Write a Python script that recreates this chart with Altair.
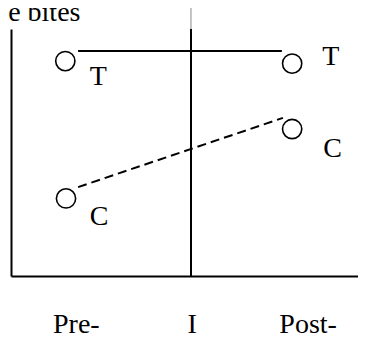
import altair as alt
import pandas as pd

# ---- data ----
title_text = "e bites"
title_x = [-0.08]
title_y = [10.32]

phase_labels = ["Pre-", "I", "Post-"]
phase_label_x = [1.84, 5.10, 8.37]
phase_label_y = [-2.31, -2.31, -2.31]

point_group = ["T", "T", "C", "C"]
point_x = [1.53, 7.92, 1.55, 7.92]
point_y = [8.70, 8.60, 3.14, 5.95]

label_text = ["T", "T", "C", "C"]
label_x = [2.46, 9.01, 2.48, 9.06]
label_y = [7.73, 8.54, 2.06, 4.82]

seg_group = ["T", "T", "C", "C"]
seg_x = [1.89, 7.63, 1.89, 7.66]
seg_y = [9.11, 9.11, 3.60, 6.40]

intervention_x = [5.07]
intervention_y = [0.0]
intervention_y2 = [10.0]
intervention_top_y2 = [10.95]

# ---- tables ----
points = pd.DataFrame({"group": point_group, "x": point_x, "y": point_y})
labels = pd.DataFrame({"text": label_text, "x": label_x, "y": label_y})
segs = pd.DataFrame({"group": seg_group, "x": seg_x, "y": seg_y})
phases = pd.DataFrame({"text": phase_labels, "x": phase_label_x, "y": phase_label_y})
title_df = pd.DataFrame({"text": [title_text], "x": title_x, "y": title_y})
rule_df = pd.DataFrame({"x": intervention_x, "y": intervention_y, "y2": intervention_y2})
rule_top_df = pd.DataFrame({"x": intervention_x, "y": intervention_y2, "y2": intervention_top_y2})

FONT = "Liberation Serif"

xs = alt.Scale(domain=[0, 9.775], nice=False, zero=False)
ys = alt.Scale(domain=[0, 10], nice=False, zero=False)
x_axis = alt.Axis(domainColor="black", domainWidth=2, ticks=False, labels=False,
                  grid=False, title=None)
y_axis = alt.Axis(domainColor="black", domainWidth=2, ticks=False, labels=False,
                  grid=False, title=None)


def X():
    return alt.X("x:Q", scale=xs, axis=x_axis)


def Y():
    return alt.Y("y:Q", scale=ys, axis=y_axis)


line_t = alt.Chart(segs).transform_filter(alt.datum.group == "T").mark_line(
    color="black", strokeWidth=2
).encode(x=X(), y=Y())

line_c = alt.Chart(segs).transform_filter(alt.datum.group == "C").mark_line(
    color="black", strokeWidth=2, strokeDash=[9, 5]
).encode(x=X(), y=Y())

rule = alt.Chart(rule_df).mark_rule(color="black", strokeWidth=2).encode(
    x=X(), y=Y(), y2="y2:Q"
)
rule_top = alt.Chart(rule_top_df).mark_rule(color="#888888", strokeWidth=1).encode(
    x=X(), y=Y(), y2="y2:Q"
)

circles = alt.Chart(points).mark_point(
    shape="circle", filled=False, color="black", strokeWidth=1.6, size=370, opacity=1
).encode(x=X(), y=Y())

point_text = alt.Chart(labels).mark_text(
    font=FONT, fontSize=28, color="black", align="center", baseline="alphabetic"
).encode(x=X(), y=Y(), text="text:N")

phase_text = alt.Chart(phases).mark_text(
    font=FONT, fontSize=28, color="black", align="center", baseline="alphabetic"
).encode(x=X(), y=Y(), text="text:N")

title_mark = alt.Chart(title_df).mark_text(
    font=FONT, fontSize=28, color="black", align="left", baseline="alphabetic"
).encode(x=X(), y=Y(), text="text:N")

chart = alt.layer(
    rule, rule_top, line_t, line_c, circles, point_text, phase_text, title_mark
).properties(
    width=347,
    height=247,
    padding={"left": 3, "top": 21, "right": 0, "bottom": 70},
    autosize="none",
).configure_view(stroke=None)

chart.save("out.html", embed_options={"renderer": "svg", "actions": False})
